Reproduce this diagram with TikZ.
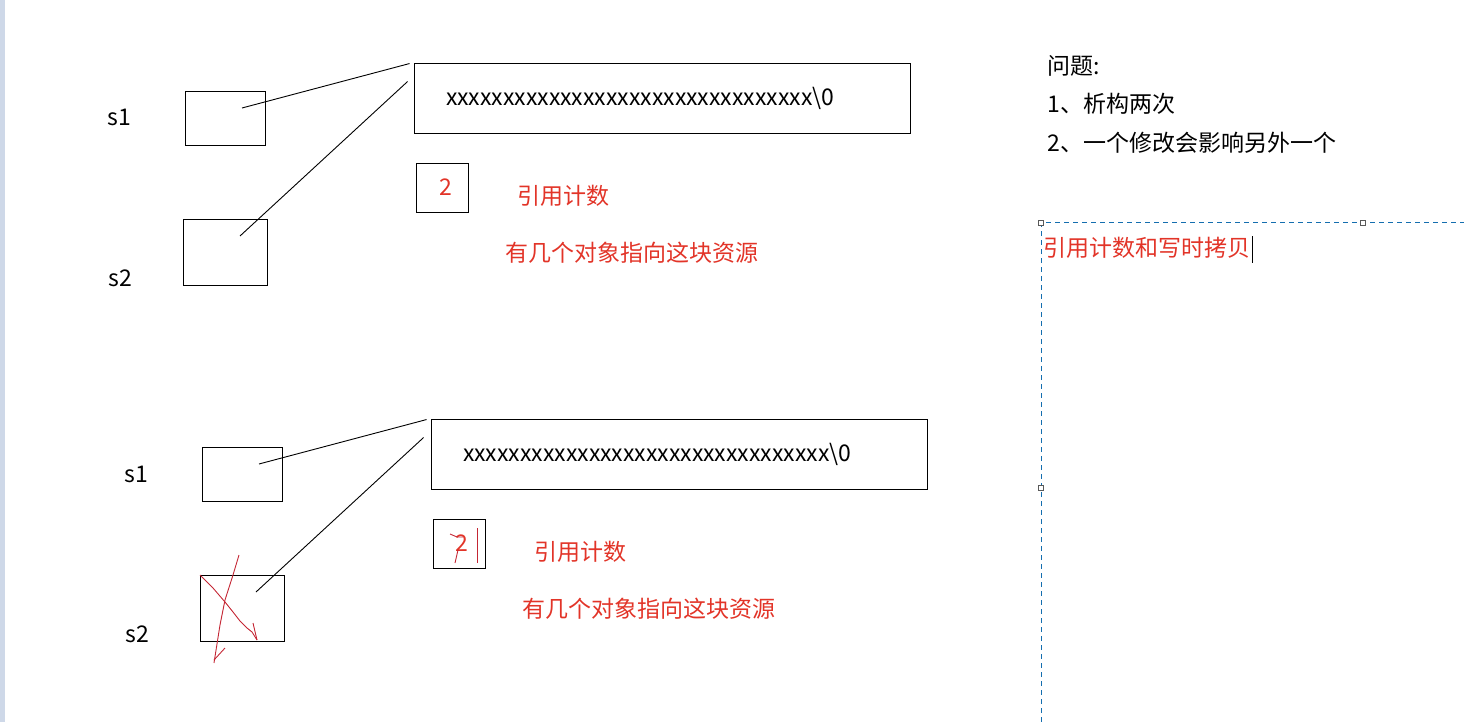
\documentclass[tikz,border=0pt]{standalone}
\usepackage{fontspec}
\setmainfont{Noto Sans CJK SC}
\usetikzlibrary{positioning}
\definecolor{inkred}{RGB}{226,52,40}
\definecolor{penred}{RGB}{196,38,52}
\definecolor{frameblue}{RGB}{20,110,175}
\definecolor{sidebar}{RGB}{206,216,232}

\begin{document}
\begin{tikzpicture}[x=1pt,y=-1pt,line width=0.9pt,inner sep=0pt,
  font=\fontsize{23}{27}\selectfont,
  obj/.style={draw,minimum width=80pt,minimum height=54pt},
  bigobj/.style={draw,minimum width=84pt,minimum height=66pt},
  buf/.style={draw,minimum width=496pt,minimum height=70pt,text width=432pt,inner xsep=32pt,align=left},
  cnt/.style={draw,minimum width=52pt,minimum height=49pt,text=inkred},
  note/.style={text=inkred},
  handle/.style={draw=gray!70!black,fill=white,line width=0.5pt,minimum size=5pt}]
\useasboundingbox (0,0) rectangle (1464,722);
\fill[sidebar] (0,0) rectangle (5,722);

\node (s1a) at (119,117) {s1};
\node[obj] (ptr1a) at (225,118) {};
\node (s2a) at (120,278) {s2};
\node[bigobj] (ptr2a) at (225,252) {};
\node[buf] (bufa) at (662,98) {xxxxxxxxxxxxxxxxxxxxxxxxxxxxxxxx\textbackslash 0};
\node[cnt] (cnta) at (442,187.5) {\hspace*{8pt}2};
\node[note] (refa) at (563,196) {引用计数};
\node[note] (howa) at (632,253) {有几个对象指向这块资源};
\draw ([shift={(17,-10)}]ptr1a.center) -- ([shift={(-4,1)}]bufa.north west);
\draw ([shift={(15,-16)}]ptr2a.center) -- ([shift={(-6,19)}]bufa.north west);

\node (s1b) at (136,474) {s1};
\node[obj] (ptr1b) at (242,474) {};
\node (s2b) at (137,634) {s2};
\node[bigobj] (ptr2b) at (242,608) {};
\node[buf] (bufb) at (679,454) {xxxxxxxxxxxxxxxxxxxxxxxxxxxxxxxx\textbackslash 0};
\node[cnt] (cntb) at (459,543.5) {\hspace*{6pt}2};
\node[note] (refb) at (580,552) {引用计数};
\node[note] (howb) at (649,609) {有几个对象指向这块资源};
\draw ([shift={(17,-10)}]ptr1b.center) -- ([shift={(-4,1)}]bufb.north west);
\draw ([shift={(14,-16)}]ptr2b.center) -- ([shift={(-7,19)}]bufb.north west);

\draw[penred] (239,555) -- (233,575) -- (225,600) -- (220,625) -- (214,663);
\draw[penred] (214,660) -- (225,648);
\draw[penred] (200,575) -- (213,588) -- (225,602) -- (233,612) -- (240,621) -- (247,628) -- (252,632) -- (257,640);
\draw[penred] (253,623) -- (257,640);
\draw[penred] (450,534) -- (457,537) -- (463,537);
\draw[penred] (477,528) -- (477,563);
\draw[penred] (455,563) -- (458,550);

\node[anchor=west] (qhead) at (1047,66) {问题:};
\node[anchor=west] (q1) at (1047,104) {1、析构两次};
\node[anchor=west] (q2) at (1047,143) {2、一个修改会影响另外一个};

\draw[frameblue,line width=1pt,dash pattern=on 5pt off 4pt] (1041,722) -- (1041,223) -- (1464,223);
\node[handle] (h1) at (1041,223) {};
\node[handle] (h2) at (1363,223) {};
\node[handle] (h3) at (1041,488) {};
\node[note,anchor=west] (cow) at (1043,248) {引用计数和写时拷贝};
\draw ([shift={(2,-12)}]cow.east) -- ([shift={(2,15)}]cow.east);
\end{tikzpicture}
\end{document}
